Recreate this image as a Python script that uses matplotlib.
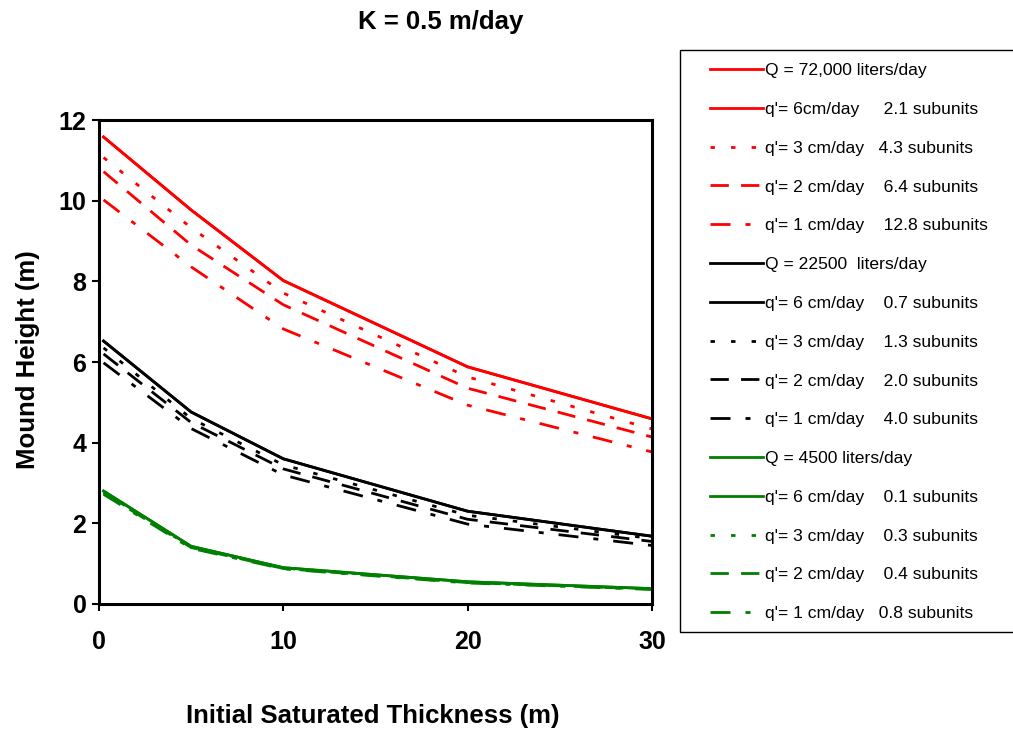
import matplotlib
matplotlib.use("Agg")
import matplotlib.pyplot as plt
from matplotlib.patches import Rectangle

plt.rcParams['font.family'] = ['Liberation Sans', 'DejaVu Sans']

# initial saturated thickness (m)
thickness = [0.25, 5, 10, 20, 30]

# mound height (m), K = 0.5 m/day
red_q6 = [11.58, 9.77, 8.02, 5.88, 4.59]
red_q3 = [11.07, 9.33, 7.71, 5.63, 4.34]
red_q2 = [10.72, 8.90, 7.42, 5.35, 4.14]
red_q1 = [10.02, 8.36, 6.82, 4.93, 3.77]

black_q6 = [6.52, 4.76, 3.60, 2.30, 1.68]
black_q3 = [6.35, 4.60, 3.45, 2.20, 1.62]
black_q2 = [6.20, 4.50, 3.35, 2.10, 1.55]
black_q1 = [5.98, 4.35, 3.20, 1.98, 1.45]

green_q6 = [2.80, 1.43, 0.90, 0.55, 0.38]
green_q3 = [2.77, 1.41, 0.89, 0.54, 0.37]
green_q2 = [2.75, 1.40, 0.88, 0.53, 0.37]
green_q1 = [2.72, 1.38, 0.87, 0.52, 0.36]

groups = [
    ("red", "Q = 72,000 liters/day",
     [(red_q6, "q'= 6cm/day     2.1 subunits"),
      (red_q3, "q'= 3 cm/day   4.3 subunits"),
      (red_q2, "q'= 2 cm/day    6.4 subunits"),
      (red_q1, "q'= 1 cm/day    12.8 subunits")]),
    ("black", "Q = 22500  liters/day",
     [(black_q6, "q'= 6 cm/day    0.7 subunits"),
      (black_q3, "q'= 3 cm/day    1.3 subunits"),
      (black_q2, "q'= 2 cm/day    2.0 subunits"),
      (black_q1, "q'= 1 cm/day    4.0 subunits")]),
    ("green", "Q = 4500 liters/day",
     [(green_q6, "q'= 6 cm/day    0.1 subunits"),
      (green_q3, "q'= 3 cm/day    0.3 subunits"),
      (green_q2, "q'= 2 cm/day    0.4 subunits"),
      (green_q1, "q'= 1 cm/day   0.8 subunits")]),
]
colors = {"red": "#ff0000", "black": "#000000", "green": "#008000"}
styles = ["-", (0, (1.6, 5.8)), (0, (6.6, 4.4)), (0, (7.2, 5.4, 1.8, 5.4))]

fig = plt.figure(figsize=(10.13, 7.32), dpi=100)
ax = fig.add_axes([0.0977, 0.1749, 0.5459, 0.6611])

handles = []
for cname, qlabel, series in groups:
    c = colors[cname]
    h, = ax.plot(thickness, series[0][0], color=c, lw=2.0, ls="-", label=qlabel)
    handles.append(h)
    for (vals, lab), ls in zip(series, styles):
        h, = ax.plot(thickness, vals, color=c, lw=2.0, ls=ls, label=lab)
        handles.append(h)

ax.set_xlim(0, 30)
ax.set_ylim(0, 12)
ax.set_xticks([0, 10, 20, 30])
ax.set_yticks([0, 2, 4, 6, 8, 10, 12])
for s in ax.spines.values():
    s.set_linewidth(2.2)
ax.tick_params(direction="out", length=5, width=1.5, labelsize=18, pad=4)
ax.tick_params(axis="x", pad=14)
for lab in ax.get_xticklabels() + ax.get_yticklabels():
    lab.set_fontweight("bold")

fig.text(373 / 1013, 1 - 716 / 732, "Initial Saturated Thickness (m)",
         ha="center", va="center", fontsize=18.5, fontweight="bold")
fig.text(28 / 1013, 1 - 360 / 732, "Mound Height (m)", rotation=90,
         ha="center", va="center", fontsize=18.5, fontweight="bold")
fig.text(441 / 1013, 1 - 22 / 732, "K = 0.5 m/day",
         ha="center", va="center", fontsize=18.5, fontweight="bold")

fig.patches.append(Rectangle((680 / 1013, 1 - 632 / 732), 0.4, 582 / 732,
                             transform=fig.transFigure, fill=False,
                             edgecolor="black", lw=1.0))
fig.legend(handles=handles, loc="upper left",
           bbox_to_anchor=(710 / 1013, 1 - 63 / 732), frameon=False,
           fontsize=12.6, handlelength=3.0, handletextpad=0.15,
           labelspacing=1.345, borderaxespad=0, borderpad=0)

fig.savefig("out.png", dpi=100)
